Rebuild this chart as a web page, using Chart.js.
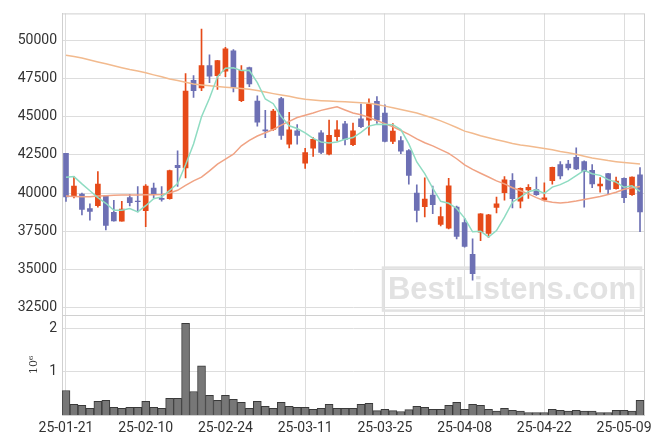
<!DOCTYPE html>
<html>
<head>
<meta charset="utf-8">
<script src="https://cdn.jsdelivr.net/npm/chart.js@4.4.1/dist/chart.umd.min.js"></script>
<style>
  html, body { margin: 0; padding: 0; background: #fff; }
</style>
</head>
<body>
<canvas id="stockChart" width="663" height="444"></canvas>
<script>
// 거래일 (YY-MM-DD)
const dates = [
  '25-01-21','25-01-22','25-01-23','25-01-24','25-01-31','25-02-03','25-02-04','25-02-05','25-02-06','25-02-07',
  '25-02-10','25-02-11','25-02-12','25-02-13','25-02-14','25-02-17','25-02-18','25-02-19','25-02-20','25-02-21',
  '25-02-24','25-02-25','25-02-26','25-02-27','25-02-28','25-03-04','25-03-05','25-03-06','25-03-07','25-03-10',
  '25-03-11','25-03-12','25-03-13','25-03-14','25-03-17','25-03-18','25-03-19','25-03-20','25-03-21','25-03-24',
  '25-03-25','25-03-26','25-03-27','25-03-28','25-03-31','25-04-01','25-04-02','25-04-03','25-04-04','25-04-07',
  '25-04-08','25-04-09','25-04-10','25-04-11','25-04-14','25-04-15','25-04-16','25-04-17','25-04-18','25-04-21',
  '25-04-22','25-04-23','25-04-24','25-04-25','25-04-28','25-04-29','25-04-30','25-05-02','25-05-07','25-05-08',
  '25-05-09','25-05-12','25-05-13'
];

const opens = [
  42600,39830,39940,38980,39170,39810,38730,38150,39700,39480,
  38840,40320,39650,39630,41820,41640,47390,46890,48360,47690,
  47990,49330,46050,48230,46030,44150,44170,46200,43200,44080,
  41960,42940,43950,42550,43700,44540,43180,44860,44780,46010,
  45250,43390,43440,42790,40000,39110,39870,37950,37690,39080,
  38060,35980,37430,37360,39050,40020,40840,39460,40200,40220,
  39550,40820,41860,41900,42350,42070,41490,40470,41280,40280,
  40970,39890,41190
];
const highs = [
  42600,41080,40000,39300,41400,39850,39530,39460,39920,40430,
  40550,40650,40430,41500,42770,47840,47710,50760,49070,48700,
  49550,49400,48360,48260,46370,45420,45490,46270,45300,44490,
  42940,43630,44100,44780,44750,44710,44580,45830,46180,46330,
  45790,44560,43700,42850,40540,40990,40450,39080,40970,39150,
  38340,37000,38650,38600,39740,41080,41270,40350,40560,41040,
  40670,41700,42060,42140,42960,42120,41860,41020,41300,41040,
  41000,41060,41670
];
const lows = [
  39450,39680,38560,38230,39070,37580,38160,38150,39160,38770,
  37800,39680,39460,39600,40430,40990,46270,46720,47240,46800,
  47630,46630,46000,46980,44390,43630,44100,43520,42960,43200,
  41620,42400,42590,42500,43420,43160,43100,44280,43800,44560,
  43350,43240,42590,40590,38100,38430,38640,37840,37650,36990,
  36450,34280,36870,37090,38700,39530,39030,39030,39640,39850,
  39480,40590,40930,41510,41540,39080,40350,40060,39960,40250,
  39370,39850,37470
];
const closes = [
  39750,40450,38920,38800,40590,37880,38170,38950,39370,39430,
  40460,39920,39580,41470,41670,46680,46720,48360,47670,48680,
  49460,46920,48040,47150,44650,44070,45380,43780,44150,43780,
  42660,43520,42660,43780,44150,43520,44080,44360,45830,44780,
  43390,44060,42740,41150,38860,39610,39240,38450,40480,37150,
  36500,34710,38640,38580,39290,40860,39630,40310,40370,39890,
  39680,41690,41120,41640,41580,41410,40600,40590,40240,40780,
  39700,41040,38770
];
const volumes = [
  566000,247000,224000,155000,315000,338000,178000,155000,178000,178000,
  315000,178000,155000,384000,384000,2120000,543000,1137000,452000,338000,
  452000,361000,292000,155000,315000,201000,155000,292000,201000,178000,
  178000,132000,155000,247000,155000,155000,155000,247000,270000,100000,
  132000,100000,80000,125000,201000,178000,132000,132000,224000,292000,
  132000,247000,224000,132000,90000,155000,110000,90000,57000,57000,
  57000,132000,110000,90000,110000,90000,90000,57000,57000,110000,
  110000,90000,338000
];
// 이동평균선
const ma5 = [
  41040,41080,40600,40150,39700,39330,38870,38880,38990,38760,
  39170,39630,39750,40170,40620,41860,43220,45000,46220,47620,
  48180,48220,48030,48050,47240,46170,45860,45010,44410,44230,
  43950,43580,43350,43280,43350,43530,43640,43980,44390,44510,
  44490,44480,44160,43220,42040,41280,40320,39460,39330,38990,
  38360,37460,37500,37120,37540,38420,39400,39730,40090,40210,
  39980,40390,40550,40800,41140,41490,41270,41160,40880,40720,
  40380,40470,40110
];
const ma20 = [
  39800,39780,39750,39760,39800,39820,39850,39870,39880,39880,
  39890,39890,39900,40000,40180,40500,40800,41040,41450,41900,
  42220,42550,43100,43450,43740,43950,44170,44450,44700,44950,
  45100,45250,45420,45550,45660,45450,45250,45140,44950,44750,
  44550,44350,44100,43850,43550,43300,43090,42850,42600,42250,
  41850,41550,41300,41050,40800,40600,40350,40150,39950,39700,
  39500,39400,39350,39400,39480,39580,39680,39780,39900,40050,
  40250,40350,40430
];
const ma60 = [
  49030,48950,48850,48720,48600,48480,48350,48220,48100,48000,
  47890,47750,47620,47480,47380,47260,47150,47090,47030,46980,
  46940,46900,46850,46800,46720,46620,46520,46430,46340,46240,
  46150,46100,46060,46030,46000,45980,45950,45920,45890,45800,
  45700,45600,45480,45360,45250,45080,44920,44730,44520,44300,
  44060,43920,43760,43630,43500,43380,43250,43150,43080,43000,
  42920,42840,42720,42640,42540,42420,42300,42220,42130,42060,
  42000,41950,41900
];
// 눈금
const priceTicks = [32500, 35000, 37500, 40000, 42500, 45000, 47500, 50000];
const volumeTicks = [1000000, 2000000];

const UP = '#e64a19';
const DOWN = '#6d70b4';
const GRID = '#dddddd';
const TICK_FONT = { family: 'Roboto', size: 14 };

const candleColors = closes.map((c, i) => c >= opens[i] ? UP : DOWN);

// 배경 워터마크와 테두리
const framePlugin = {
  id: 'frame',
  beforeDatasetsDraw(chart) {
    const ctx = chart.ctx;
    const area = chart.chartArea;
    const py = chart.scales.y;
    ctx.save();
    // 워터마크
    const bw = 258, bh = 43;
    const bx = area.right - 3 - bw;
    const by = py.bottom - 4 - bh;
    ctx.strokeStyle = '#e2e2e2';
    ctx.lineWidth = 2.5;
    ctx.strokeRect(bx, by, bw, bh);
    ctx.fillStyle = '#e2e2e2';
    ctx.font = 'bold 31px "Liberation Sans", Arial, sans-serif';
    ctx.textAlign = 'center';
    ctx.textBaseline = 'middle';
    ctx.fillText('BestListens.com', bx + bw / 2, by + bh / 2 + 1);
    // 테두리
    ctx.strokeStyle = '#d0d0d0';
    ctx.lineWidth = 1;
    ctx.strokeRect(area.left + 0.5, area.top + 0.5, area.right - area.left, area.bottom - area.top);
    ctx.beginPath();
    ctx.moveTo(area.left, Math.round(py.bottom) + 0.5);
    ctx.lineTo(area.right, Math.round(py.bottom) + 0.5);
    ctx.stroke();
    ctx.restore();
  }
};

const ctx = document.getElementById('stockChart').getContext('2d');
new Chart(ctx, {
  type: 'bar',
  data: {
    labels: dates,
    datasets: [
      {
        type: 'line', label: 'MA5', data: ma5, yAxisID: 'y', order: 0,
        borderColor: '#8fdcc2', borderWidth: 1.5, pointRadius: 0, tension: 0
      },
      {
        type: 'line', label: 'MA20', data: ma20, yAxisID: 'y', order: 0,
        borderColor: '#f0a384', borderWidth: 1.5, pointRadius: 0, tension: 0
      },
      {
        type: 'line', label: 'MA60', data: ma60, yAxisID: 'y', order: 0,
        borderColor: '#f2ba8e', borderWidth: 1.5, pointRadius: 0, tension: 0
      },
      {
        label: 'body', yAxisID: 'y', order: 1, grouped: false,
        data: opens.map((o, i) => [o, closes[i]]),
        backgroundColor: candleColors, barThickness: 5, borderWidth: 0
      },
      {
        label: 'wick', yAxisID: 'y', order: 2, grouped: false,
        data: lows.map((l, i) => [l, highs[i]]),
        backgroundColor: candleColors, barThickness: 1, borderWidth: 0
      },
      {
        label: 'volume', yAxisID: 'yv', order: 3, grouped: false,
        data: volumes,
        backgroundColor: '#777777', borderColor: '#3a3a3a', borderWidth: 1,
        barPercentage: 1, categoryPercentage: 1
      }
    ]
  },
  options: {
    responsive: false,
    animation: false,
    layout: { padding: { top: 9, right: 19, left: 0, bottom: 0 } },
    plugins: { legend: { display: false }, tooltip: { enabled: false } },
    scales: {
      x: {
        type: 'category',
        offset: true,
        grid: { offset: false, color: GRID, drawTicks: false },
        border: { display: false },
        ticks: {
          autoSkip: false, maxRotation: 0, padding: 5, color: '#333', font: TICK_FONT,
          callback: (v, i) => (i % 10 === 0 ? dates[i] : null)
        },
        afterFit: s => { s.height = 29; }
      },
      // 왼쪽 축은 역순으로 쌓이므로 거래량 축을 먼저 선언
      yv: {
        stack: 'panes', stackWeight: 1, position: 'left',
        min: 0, max: 2320000,
        grid: { color: GRID, drawTicks: false },
        border: { color: '#cccccc' },
        ticks: {
          padding: 5, color: '#333', font: TICK_FONT,
          callback: v => String(v / 1000000)
        },
        afterBuildTicks: s => { s.ticks = volumeTicks.map(v => ({ value: v })); },
        title: {
          display: true, text: '10⁶', color: '#333',
          font: { family: 'DejaVu Serif', size: 11 },
          padding: { top: 28, bottom: 0 }
        },
        afterFit: s => { s.width = 62; }
      },
      y: {
        stack: 'panes', stackWeight: 3, position: 'left',
        min: 32030, max: 51780,
        grid: { color: GRID, drawTicks: false },
        border: { color: '#cccccc' },
        ticks: {
          padding: 5, color: '#333', font: TICK_FONT,
          callback: v => String(v)
        },
        afterBuildTicks: s => { s.ticks = priceTicks.map(v => ({ value: v })); },
        afterFit: s => { s.width = 62; }
      }
    }
  },
  plugins: [framePlugin]
});
</script>
</body>
</html>
